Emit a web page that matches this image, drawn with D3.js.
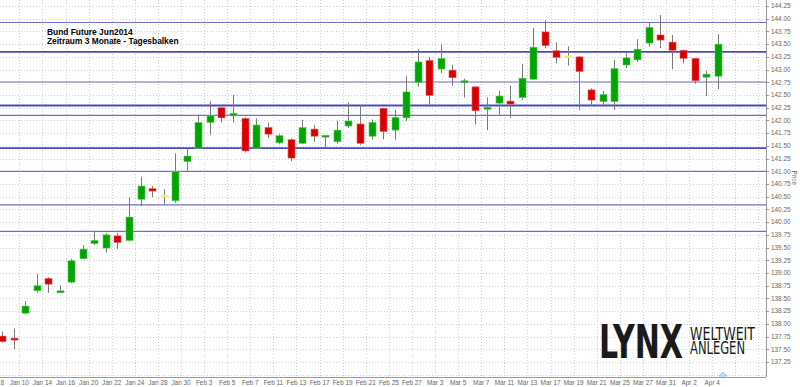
<!DOCTYPE html>
<html>
<head>
<meta charset="utf-8">
<script src="https://cdn.jsdelivr.net/npm/d3@7/dist/d3.min.js"></script>
<style>
html,body{margin:0;padding:0;background:#fff;}
svg{display:block;}
</style>
</head>
<body>
<svg id="chart" width="800" height="387"></svg>
<script>
const dates = ["Jan 8","Jan 9","Jan 10","Jan 13","Jan 14","Jan 15","Jan 16","Jan 17","Jan 20","Jan 21","Jan 22","Jan 23","Jan 24","Jan 27","Jan 28","Jan 29","Jan 30","Jan 31","Feb 3","Feb 4","Feb 5","Feb 6","Feb 7","Feb 10","Feb 11","Feb 12","Feb 13","Feb 14","Feb 17","Feb 18","Feb 19","Feb 20","Feb 21","Feb 24","Feb 25","Feb 26","Feb 27","Feb 28","Mar 3","Mar 4","Mar 5","Mar 6","Mar 7","Mar 10","Mar 11","Mar 12","Mar 13","Mar 14","Mar 17","Mar 18","Mar 19","Mar 20","Mar 21","Mar 24","Mar 25","Mar 26","Mar 27","Mar 28","Mar 31","Apr 1","Apr 2","Apr 3","Apr 4"];
const open  = [137.76,137.70,138.21,138.65,138.89,138.62,138.82,139.28,139.58,139.49,139.73,139.64,140.45,140.66,140.51,140.42,141.19,141.45,141.96,142.25,142.09,142.04,141.45,141.86,141.56,141.62,141.55,141.83,141.67,141.58,141.89,141.93,141.69,142.24,141.81,142.05,142.75,143.18,143.01,142.99,142.75,142.66,142.23,142.34,142.38,142.45,142.81,143.74,143.37,143.25,143.25,142.60,142.37,142.37,143.09,143.19,143.52,143.68,143.54,143.38,143.22,142.85,142.87];
const high  = [137.85,137.91,138.45,138.98,138.92,138.76,139.28,139.55,139.81,139.78,139.79,140.49,140.89,140.71,140.65,141.35,141.45,142.11,142.38,142.26,142.50,142.06,142.04,141.96,141.73,141.65,142.01,141.91,141.70,141.99,142.35,142.30,142.02,142.25,142.21,142.87,143.40,143.25,143.50,143.09,142.82,142.67,142.45,142.58,142.68,143.11,143.82,143.97,143.54,143.46,143.26,142.63,142.58,143.19,143.32,143.60,143.92,144.07,143.68,143.39,143.23,142.98,143.70];
const low   = [137.63,137.50,138.19,138.61,138.61,138.61,138.80,139.27,139.55,139.40,139.47,139.62,140.32,140.49,140.35,140.38,141.01,141.45,141.71,141.96,141.96,141.37,141.45,141.65,141.53,141.20,141.53,141.58,141.47,141.54,141.85,141.52,141.62,141.63,141.62,141.99,142.66,142.27,142.93,142.68,142.45,141.92,141.81,142.11,142.05,142.40,142.80,143.42,143.12,143.08,142.20,142.28,142.30,142.21,143.03,143.15,143.45,143.42,143.01,143.12,142.72,142.48,142.61];
const close = [137.65,137.67,138.35,138.75,138.78,138.63,139.24,139.47,139.64,139.75,139.60,140.10,140.71,140.61,140.51,140.99,141.30,141.96,142.09,142.05,142.14,141.40,141.91,141.73,141.70,141.26,141.86,141.69,141.69,141.81,141.99,141.55,141.96,141.78,142.06,142.56,143.15,142.49,143.22,142.84,142.76,142.19,142.24,142.48,142.32,142.83,143.44,143.47,143.24,143.25,142.96,142.40,142.51,143.02,143.23,143.40,143.83,143.58,143.38,143.22,142.78,142.91,143.50];
const yTicks = ["137.25","137.50","137.75","138.00","138.25","138.50","138.75","139.00","139.25","139.50","139.75","140.00","140.25","140.50","140.75","141.00","141.25","141.50","141.75","142.00","142.25","142.50","142.75","143.00","143.25","143.50","143.75","144.00","144.25"];
const majorLevels = [143.346, 142.294, 141.455];
const minorLevels = [143.926, 142.756, 142.10, 140.997, 140.34, 139.82];
const titleLines = ["Bund Future Jun2014", "Zeitraum 3 Monate - Tagesbalken"];

const svg = d3.select("#chart");
const W = 800, H = 387;
const plotRight = 766, plotBottom = 377;
const x = d3.scaleLinear().domain([0, dates.length - 1]).range([2, 718]);
const step = x(1) - x(0);
const y = d3.scaleLinear().domain([137.25, 144.25]).range([362, 6]);

// grid ticks: every second trading day, plus empty future slots
const tickIdx = [];
for (let i = 0; i <= dates.length + 4; i += 2) tickIdx.push(i);

const grid = svg.append("g");
grid.selectAll("line.h").data(yTicks.concat(["137.00"])).enter().append("line")
  .attr("x1", 0).attr("x2", plotRight)
  .attr("y1", d => Math.round(y(+d)) + 0.5).attr("y2", d => Math.round(y(+d)) + 0.5)
  .attr("stroke", "#cfcfcf").attr("stroke-width", 1).attr("stroke-dasharray", "1,2");
grid.selectAll("line.v").data(tickIdx).enter().append("line")
  .attr("y1", 0).attr("y2", plotBottom)
  .attr("x1", d => Math.round(x(d) - step / 2) + 0.5).attr("x2", d => Math.round(x(d) - step / 2) + 0.5)
  .attr("stroke", "#cfcfcf").attr("stroke-width", 1).attr("stroke-dasharray", "1,2");

// horizontal levels
const lv = svg.append("g");
lv.selectAll("line.mi").data(minorLevels).enter().append("line")
  .attr("x1", 0).attr("x2", plotRight)
  .attr("y1", d => y(d)).attr("y2", d => y(d))
  .attr("stroke", "#7070c8").attr("stroke-width", 1.2);
lv.selectAll("line.ma").data(majorLevels).enter().append("line")
  .attr("x1", 0).attr("x2", plotRight)
  .attr("y1", d => y(d)).attr("y2", d => y(d))
  .attr("stroke", "#4848c0").attr("stroke-width", 1.8);

// title
svg.append("g").selectAll("text").data(titleLines).enter().append("text")
  .attr("x", 47).attr("y", (d, i) => 35 + i * 8.7)
  .attr("font-family", "Liberation Sans, Arial, sans-serif")
  .attr("font-weight", "bold").attr("font-size", 8.4).attr("fill", "#000")
  .text(d => d);

// candles
const candles = dates.map((d, i) => ({i, o: open[i], h: high[i], l: low[i], c: close[i]}));
const cg = svg.append("g");
cg.selectAll("line.wick").data(candles).enter().append("line")
  .attr("x1", d => Math.round(x(d.i)) + 0.5).attr("x2", d => Math.round(x(d.i)) + 0.5)
  .attr("y1", d => y(d.h)).attr("y2", d => y(d.l))
  .attr("stroke", "#7a7a7a").attr("stroke-width", 1);
const bw = 7;
cg.selectAll("rect.body").data(candles).enter().append("rect")
  .attr("x", d => Math.round(x(d.i)) + 0.5 - bw / 2)
  .attr("width", bw)
  .attr("y", d => Math.min(y(d.o), y(d.c)) - (Math.abs(y(d.o) - y(d.c)) < 2 ? 1 : 0))
  .attr("height", d => Math.max(2, Math.abs(y(d.o) - y(d.c))))
  .attr("fill", d => d.c > d.o ? "#00a600" : (d.c < d.o ? "#d80000" : "#f0f070"))
  .attr("stroke", d => d.c > d.o ? "#5cc85c" : (d.c < d.o ? "#e86060" : "#f0f070"))
  .attr("stroke-width", 0.6);

// right axis
svg.append("line").attr("x1", plotRight + 0.5).attr("x2", plotRight + 0.5)
  .attr("y1", 0).attr("y2", plotBottom).attr("stroke", "#9a9a9a");
svg.append("line").attr("x1", 0).attr("x2", plotRight)
  .attr("y1", plotBottom + 0.5).attr("y2", plotBottom + 0.5).attr("stroke", "#9a9a9a");
const ya = svg.append("g");
ya.selectAll("line").data(yTicks).enter().append("line")
  .attr("x1", plotRight).attr("x2", plotRight + 3)
  .attr("y1", d => Math.round(y(+d)) + 0.5).attr("y2", d => Math.round(y(+d)) + 0.5)
  .attr("stroke", "#9a9a9a");
ya.selectAll("text").data(yTicks).enter().append("text")
  .attr("x", 771).attr("y", d => y(+d) + 2.3)
  .attr("font-family", "Liberation Sans, Arial, sans-serif").attr("font-size", 6.4)
  .attr("fill", "#666").text(d => d);
svg.append("text").attr("transform", "translate(792," + y(140.87) + ") rotate(90)")
  .attr("text-anchor", "middle")
  .attr("font-family", "Liberation Sans, Arial, sans-serif").attr("font-size", 6.4)
  .attr("fill", "#666").text("Price");

// x labels
svg.append("g").selectAll("text").data(tickIdx.filter(i => i < dates.length)).enter().append("text")
  .attr("x", d => x(d) - step / 2).attr("y", 385)
  .attr("text-anchor", "middle")
  .attr("font-family", "Liberation Sans, Arial, sans-serif").attr("font-size", 6.4)
  .attr("fill", "#666").text(d => dates[d]);

// scroll marker
const mx = x(dates.length - 1) + 5;
svg.append("path").attr("d", `M${mx - 4},${plotBottom - 1} L${mx},${plotBottom - 5} L${mx + 4},${plotBottom - 1} Z`)
  .attr("fill", "#cfe3f5").attr("stroke", "#7fb0dd").attr("stroke-width", 0.8);

// logo
const logo = svg.append("g");
logo.append("text").attr("x", 599).attr("y", 358)
  .attr("font-family", "Liberation Sans Narrow, DejaVu Sans Condensed, Arial, sans-serif")
  .attr("font-weight", "bold").attr("font-size", 46)
  .attr("textLength", 84).attr("lengthAdjust", "spacingAndGlyphs")
  .attr("fill", "#1a1a1a").text("LYNX");
logo.append("text").attr("x", 690).attr("y", 339.5)
  .attr("font-family", "Liberation Sans Narrow, DejaVu Sans Condensed, Arial, sans-serif")
  .attr("font-size", 18.5)
  .attr("textLength", 65).attr("lengthAdjust", "spacingAndGlyphs")
  .attr("fill", "#1a1a1a").text("WELTWEIT");
logo.append("text").attr("x", 690).attr("y", 353.5)
  .attr("font-family", "Liberation Sans Narrow, DejaVu Sans Condensed, Arial, sans-serif")
  .attr("font-size", 18.5)
  .attr("textLength", 55).attr("lengthAdjust", "spacingAndGlyphs")
  .attr("fill", "#1a1a1a").text("ANLEGEN");
</script>
</body>
</html>
